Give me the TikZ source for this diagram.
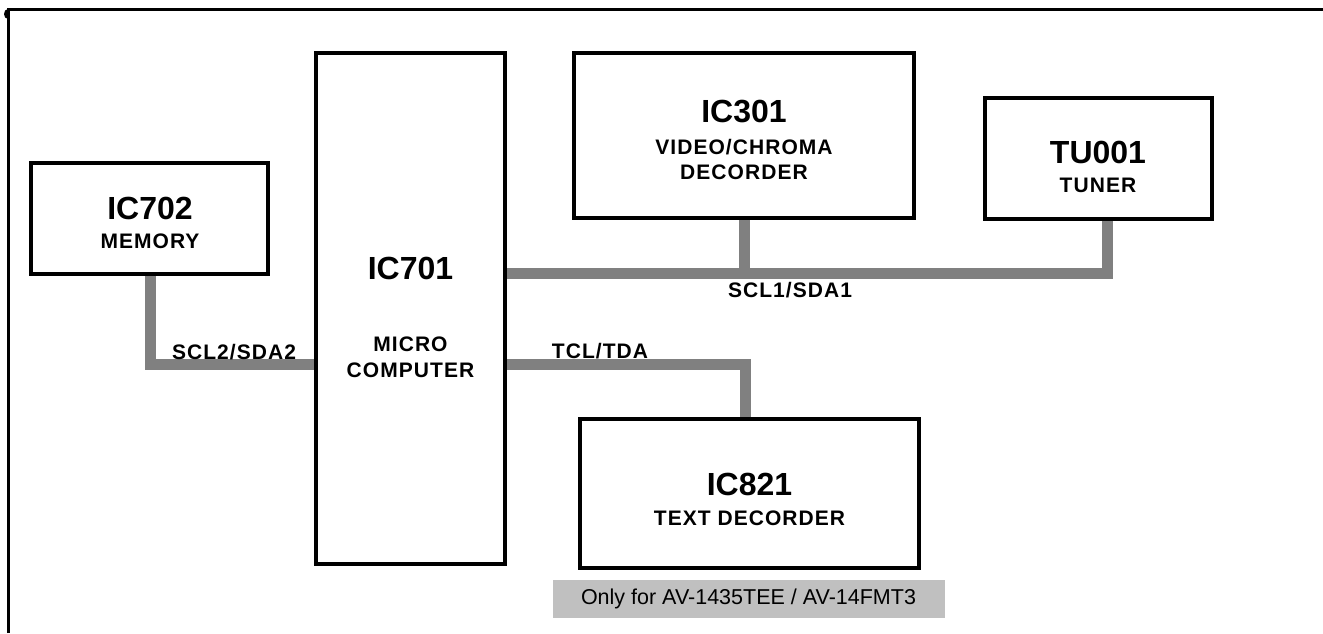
\documentclass[tikz,border=0pt]{standalone}
\usepackage{fontspec}
\setmainfont{Liberation Sans}
\begin{document}
\begin{tikzpicture}[x=1pt,y=-1pt,
  blk/.style={draw=black,line width=2.6pt,fill=white,inner sep=0pt,align=center},
  bus/.style={draw=busgray,line width=11pt,line cap=butt,line join=miter},
  ttl/.style={font=\fontsize{32}{32}\selectfont\bfseries,inner sep=0pt},
  sub/.style={font=\fontsize{21}{21}\selectfont\bfseries\addfontfeature{LetterSpace=5},inner sep=0pt},
  lbl/.style={font=\fontsize{21}{21}\selectfont\bfseries\addfontfeature{LetterSpace=5},inner sep=0pt}]
\definecolor{busgray}{HTML}{808080}
\definecolor{notegray}{HTML}{C0C0C0}
\useasboundingbox (0,0) rectangle (1323,633);
% frame
\draw[line width=3pt] (8,633) -- (8,9.5) -- (1323,9.5);
\fill (8,19) arc[start angle=90,end angle=270,x radius=4,y radius=5] -- cycle;
% boxes (positions)
\coordinate (c702) at (149.5,218.5);
\coordinate (c701) at (410.5,308.5);
\coordinate (c301) at (744,135.5);
\coordinate (ctu) at (1098.5,158.5);
\coordinate (c821) at (749.5,493.5);
% bus junctions
\coordinate (j1) at (1107,273);
\coordinate (j2) at (745,364);
\coordinate (j3) at (150,364);
\node[blk,minimum width=235pt,minimum height=109pt] (ic702) at (c702) {};
\node[blk,minimum width=187pt,minimum height=509pt] (ic701) at (c701) {};
\node[blk,minimum width=338pt,minimum height=163pt] (ic301) at (c301) {};
\node[blk,minimum width=225pt,minimum height=119pt] (tu) at (ctu) {};
\node[blk,minimum width=337pt,minimum height=147pt] (ic821) at (c821) {};
% buses
\draw[bus] (ic701.east |- j1) -- (j1) -- (j1 |- tu.south);
\draw[bus] (j1 -| ic301.south) -- (ic301.south);
\draw[bus] (ic701.east |- j2) -- (j2) -- (j2 |- ic821.north);
\draw[bus] (j3 |- ic702.south) -- (j3) -- (ic701.west |- j3);
% redraw borders over bus ends
\foreach \n in {ic702,ic701,ic301,tu,ic821}{\draw[line width=2.6pt] (\n.north west) rectangle (\n.south east);}
% texts
\node[ttl] (t702) at (150,208) {IC702};
\node[sub] (s702) at (150,241) {MEMORY};
\node[ttl] (t701) at (410.5,268) {IC701};
\node[sub] (s701a) at (410.5,344) {MICRO};
\node[sub] (s701b) at (410.5,370) {COMPUTER};
\node[ttl] (t301) at (744,112) {IC301};
\node[sub] (s301a) at (744,147) {VIDEO/CHROMA};
\node[sub] (s301b) at (744,172) {DECORDER};
\node[ttl] (ttu) at (1098,152) {TU001};
\node[sub] (stu) at (1098,185) {TUNER};
\node[ttl] (t821) at (749.5,484) {IC821};
\node[sub] (s821) at (749.5,518) {TEXT DECORDER};
\node[lbl] (l1) at (790,290) {SCL1/SDA1};
\node[lbl] (l2) at (234,352) {SCL2/SDA2};
\node[lbl] (l3) at (600,351) {TCL/TDA};
\node[fill=notegray,minimum width=392pt,minimum height=38pt,inner sep=0pt,font=\fontsize{21.5}{21.5}\selectfont] (note) at (748.5,599) {Only for AV-1435TEE / AV-14FMT3};
\end{tikzpicture}
\end{document}
